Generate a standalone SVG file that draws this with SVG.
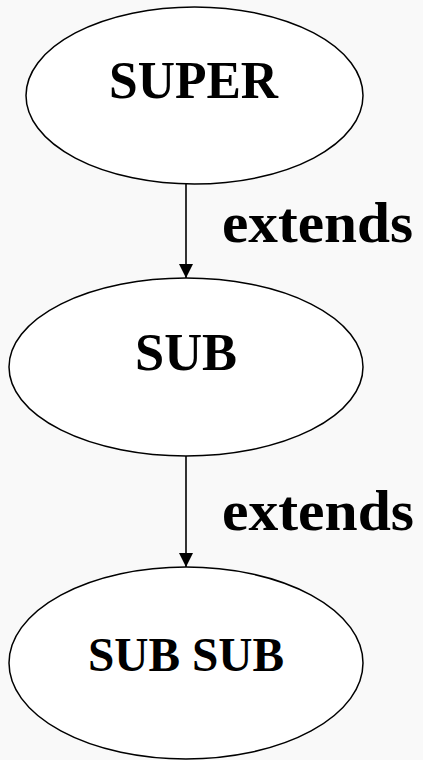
<svg xmlns="http://www.w3.org/2000/svg" width="423" height="760" viewBox="0 0 423 760">
  <defs>
    <marker id="arrow" viewBox="0 0 14 14" refX="14" refY="7" markerWidth="14" markerHeight="14" markerUnits="userSpaceOnUse" orient="auto">
      <path d="M0,0 L14,7 L0,14 Z" fill="#000"/>
    </marker>
  </defs>
  <style>
    .bg { fill: #f9f9f9; }
    .node { fill: #ffffff; stroke: #000; stroke-width: 1.5; }
    .label { font-family: "Liberation Serif", "Times New Roman", serif; font-weight: bold; fill: #000; }
    .edge { stroke: #000; stroke-width: 1.6; fill: none; marker-end: url(#arrow); }
  </style>
  <rect class="bg" x="0" y="0" width="423" height="760"/>

  <g id="connectors">
    <line class="edge" x1="186" y1="184" x2="186" y2="278"/>
    <text class="label" x="222" y="242" font-size="58" textLength="191" lengthAdjust="spacingAndGlyphs">extends</text>
    <line class="edge" x1="186" y1="456" x2="186" y2="567"/>
    <text class="label" x="222" y="530" font-size="58" textLength="192" lengthAdjust="spacingAndGlyphs">extends</text>
  </g>

  <g id="super">
    <ellipse class="node" cx="194.5" cy="95.5" rx="168.5" ry="88.5"/>
    <text class="label" x="193.5" y="98" font-size="53" text-anchor="middle" textLength="169" lengthAdjust="spacingAndGlyphs">SUPER</text>
  </g>

  <g id="sub">
    <ellipse class="node" cx="186" cy="367" rx="177" ry="89"/>
    <text class="label" x="186" y="370" font-size="53" text-anchor="middle" textLength="102" lengthAdjust="spacingAndGlyphs">SUB</text>
  </g>

  <g id="subsub">
    <ellipse class="node" cx="186" cy="663" rx="177" ry="96"/>
    <text class="label" x="186" y="671" font-size="48" text-anchor="middle" textLength="196" lengthAdjust="spacingAndGlyphs">SUB SUB</text>
  </g>
</svg>
